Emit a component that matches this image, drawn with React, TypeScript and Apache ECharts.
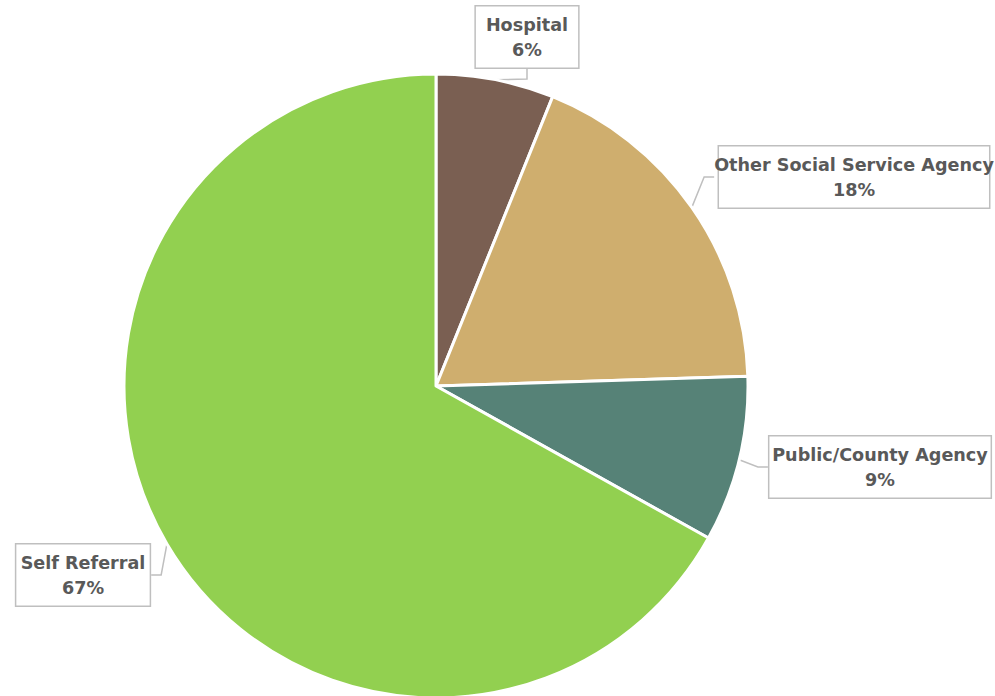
import React, { useEffect, useRef } from "react";
import * as echarts from "echarts";

const categories = ["Hospital", "Other Social Service Agency", "Public/County Agency", "Self Referral"];
const values = [6.1, 18.4, 8.6, 66.9];
const colors = ["#7a5f52", "#cfae6e", "#568277", "#92d050"];
const labelCenters = [
  [527, 37],
  [854, 177],
  [880, 467],
  [83, 575],
];

export default function App() {
  const ref = useRef<HTMLDivElement>(null);
  useEffect(() => {
    document.body.style.margin = "0";
    const chart = echarts.init(ref.current!, null, { renderer: "svg" });
    chart.setOption({
      animation: false,
      backgroundColor: "#ffffff",
      series: [
        {
          type: "pie",
          center: [436, 386],
          radius: 312,
          startAngle: 90,
          clockwise: true,
          data: categories.map((name, i) => ({ name, value: values[i], itemStyle: { color: colors[i] } })),
          itemStyle: { borderColor: "#ffffff", borderWidth: 3 },
          percentPrecision: 0,
          label: {
            show: true,
            formatter: "{b}\n{d}%",
            fontFamily: "DejaVu Sans",
            fontWeight: "bold",
            fontSize: 17.6,
            lineHeight: 25,
            color: "#595959",
            align: "center",
            overflow: "none",
            backgroundColor: "#ffffff",
            borderColor: "#bfbfbf",
            borderWidth: 1.5,
            padding: [6, 10, 5, 10],
          },
          labelLine: {
            show: true,
            length: 10,
            length2: 10,
            lineStyle: { color: "#bfbfbf", width: 1.5 },
          },
          labelLayout: (params: any) => {
            const c = labelCenters[params.dataIndex];
            return { x: c[0], y: c[1], align: "center", verticalAlign: "middle" };
          },
        },
      ],
    });
    return () => chart.dispose();
  }, []);
  return <div ref={ref} style={{ width: 995, height: 696 }} />;
}
